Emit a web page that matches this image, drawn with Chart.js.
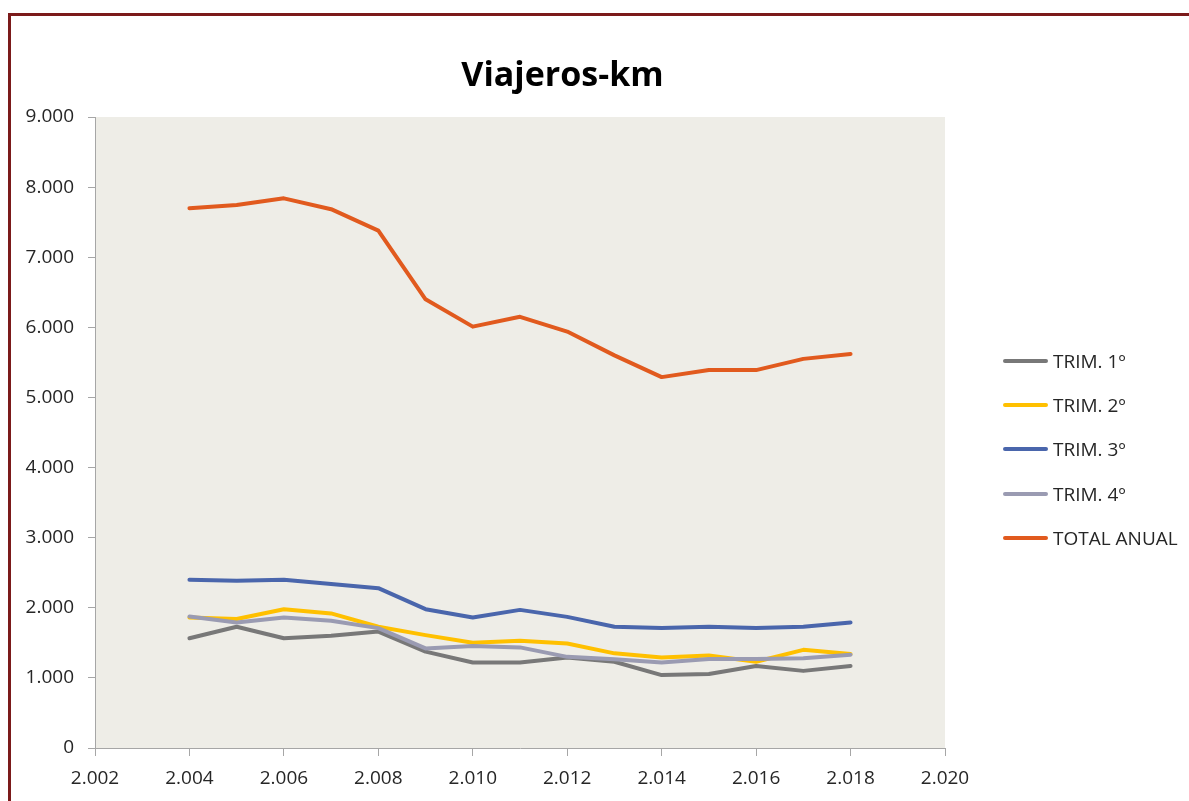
<!DOCTYPE html>
<html><head><meta charset="utf-8">
<script src="https://cdn.jsdelivr.net/npm/chart.js@4.4.1/dist/chart.umd.min.js"></script>
<style>
html,body{margin:0;padding:0;background:#fff;}
#wrap{position:relative;width:1189px;height:801px;overflow:hidden;background:#fff;}
#frame{position:absolute;left:8px;top:13px;width:1400px;height:1000px;border-top:3px solid #7B1A1A;border-left:3px solid #7B1A1A;}
#c{position:absolute;left:0;top:0;}
#title{position:absolute;left:0;width:1125px;top:50px;text-align:center;font-family:"Open Sans",sans-serif;font-weight:bold;font-size:34px;color:#000;line-height:normal;}
.lg{position:absolute;left:1003px;height:26px;display:flex;align-items:center;font-family:"Open Sans",sans-serif;font-size:19px;color:#262626;white-space:nowrap;}
.lg i{display:inline-block;width:45px;height:4px;border-radius:2px;margin-right:5px;}
</style>
</head><body>
<div id="wrap">
<div id="frame"></div>
<canvas id="c" width="1189" height="801"></canvas>
<div id="title">Viajeros-km</div>
<div id="legend"></div>
</div>
<script>
const years = [2004,2005,2006,2007,2008,2009,2010,2011,2012,2013,2014,2015,2016,2017,2018];
const trim1 = [1565,1730,1565,1600,1660,1375,1220,1220,1290,1230,1040,1055,1170,1100,1170];
const trim2 = [1860,1840,1980,1920,1730,1610,1500,1530,1490,1350,1290,1320,1230,1400,1340];
const trim3 = [2400,2385,2400,2340,2280,1980,1860,1970,1870,1730,1710,1730,1710,1730,1790];
const trim4 = [1875,1790,1860,1815,1710,1420,1455,1435,1300,1265,1220,1270,1270,1280,1330];
const total = [7700,7745,7840,7685,7380,6400,6010,6150,5940,5600,5290,5390,5390,5550,5620];
const seriesNames = ['TRIM. 1º','TRIM. 2º','TRIM. 3º','TRIM. 4º','TOTAL ANUAL'];
const seriesColors = ['#787878','#FFC000','#4A66AC','#9A9BB2','#E15A1E'];
const xTicks = {min:2002, max:2020, step:2};
const yTicks = {min:0, max:9000, step:1000};

const fmt = v => String(Math.round(v)).replace(/\B(?=(\d{3})+(?!\d))/g,'.');
const allSeries = [trim1,trim2,trim3,trim4,total];
const datasets = allSeries.map((arr,i)=>({
  label: seriesNames[i],
  data: years.map((y,j)=>({x:y,y:arr[j]})),
  borderColor: seriesColors[i],
  backgroundColor: seriesColors[i],
  borderWidth: 4,
  pointRadius: 0,
  showLine: true,
  tension: 0,
  borderCapStyle: 'round',
  borderJoinStyle: 'round',
  order: allSeries.length - i
}));

const bgPlugin = {
  id:'plotbg',
  beforeDraw(chart){
    const {ctx, chartArea:a} = chart;
    ctx.save();
    ctx.fillStyle = '#EEEDE7';
    ctx.fillRect(a.left, a.top, a.right-a.left, a.bottom-a.top);
    ctx.restore();
  }
};

const tickFont = {family:'"Open Sans", sans-serif', size:19};
new Chart(document.getElementById('c'), {
  type:'scatter',
  data:{datasets},
  plugins:[bgPlugin],
  options:{
    responsive:false,
    animation:false,
    layout:{padding:{left:0,top:117,right:244,bottom:0}},
    plugins:{legend:{display:false},title:{display:false},tooltip:{enabled:false}},
    scales:{
      x:{
        type:'linear', min:xTicks.min, max:xTicks.max,
        ticks:{stepSize:xTicks.step, callback:v=>fmt(v), font:tickFont, color:'#262626', padding:11, maxRotation:0, autoSkip:false},
        grid:{drawOnChartArea:false, drawTicks:true, tickLength:8, color:'#A6A6A6'},
        border:{display:true, color:'#A6A6A6', width:1},
        afterFit(s){ s.height = 53; }
      },
      y:{
        type:'linear', min:yTicks.min, max:yTicks.max,
        ticks:{stepSize:yTicks.step, callback:v=>fmt(v), font:tickFont, color:'#262626', padding:14},
        grid:{drawOnChartArea:false, drawTicks:true, tickLength:7, color:'#A6A6A6'},
        border:{display:true, color:'#A6A6A6', width:1},
        afterFit(s){ s.width = 95; }
      }
    }
  }
});

const lg = document.getElementById('legend');
seriesNames.forEach((n,i)=>{
  const d = document.createElement('div');
  d.className='lg';
  d.style.top = (360.7 - 13 + i*44.3) + 'px';
  d.innerHTML = '<i style="background:'+seriesColors[i]+'"></i><span>'+n+'</span>';
  lg.appendChild(d);
});
</script>
</body></html>
